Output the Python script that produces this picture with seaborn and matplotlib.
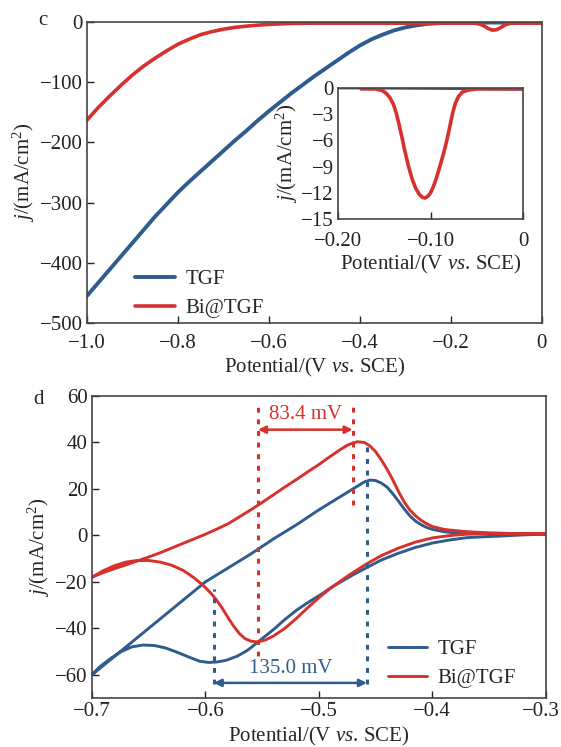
import matplotlib
matplotlib.use('Agg')
import matplotlib.pyplot as plt
import matplotlib.transforms as mtransforms
import seaborn as sns

# panel c: linear sweep, V vs SCE and mA/cm2
lsv_pot_tgf = [-1.00, -0.975, -0.95, -0.925, -0.90, -0.875, -0.85, -0.825, -0.80, -0.775,
               -0.75, -0.725, -0.70, -0.675, -0.65, -0.625, -0.60, -0.575, -0.55, -0.525,
               -0.50, -0.475, -0.45, -0.425, -0.40, -0.375, -0.35, -0.325, -0.30, -0.275,
               -0.25, -0.225, -0.20, -0.15, 0.00]
lsv_j_tgf = [-455, -433, -411, -389, -367, -345, -323, -303, -283, -265,
             -248, -231, -214, -197, -181, -164, -148, -133, -118, -104,
             -90, -77, -64, -51, -39, -29, -21, -14, -9, -5.5,
             -3, -2, -1.5, -1, -1]
lsv_pot_bi = [-1.00, -0.975, -0.95, -0.925, -0.90, -0.875, -0.85, -0.825, -0.80, -0.775,
              -0.75, -0.725, -0.70, -0.675, -0.65, -0.625, -0.60, -0.55, -0.50, -0.15,
              -0.14, -0.13, -0.12, -0.11, -0.10, -0.09, -0.08, -0.07, -0.06, 0.00]
lsv_j_bi = [-163, -142, -123, -105, -88, -73, -60, -48, -37, -28.5,
            -21, -16, -12, -9, -7, -5.3, -4, -2.5, -2, -2,
            -3, -5.5, -10, -13.5, -13, -9, -4.5, -2.5, -2, -2]

# inset: zoom of the Bi@TGF stripping peak
ins_pot_tgf = [-0.20, -0.15, -0.10, -0.05, 0.00]
ins_j_tgf = [0.0, -0.02, -0.05, -0.1, -0.15]
ins_pot_bi = [-0.175, -0.16, -0.152, -0.148, -0.144, -0.140, -0.137, -0.134, -0.131, -0.128,
              -0.124, -0.120, -0.116, -0.112, -0.109, -0.106, -0.103, -0.100, -0.097, -0.094,
              -0.090, -0.086, -0.082, -0.079, -0.076, -0.073, -0.070, -0.066, -0.060, -0.050,
              -0.03, 0.00]
ins_j_bi = [-0.1, -0.1, -0.3, -0.6, -1.1, -1.9, -2.9, -4.2, -5.6, -7.1,
            -8.9, -10.4, -11.5, -12.2, -12.5, -12.6, -12.4, -12.0, -11.3, -10.4,
            -9.0, -7.5, -5.8, -4.3, -2.8, -1.7, -1.0, -0.5, -0.25, -0.1,
            -0.1, -0.1]

# panel d: cyclic voltammograms (forward sweep then reverse)
cv_pot_tgf = [-0.70, -0.69, -0.68, -0.66, -0.64, -0.62, -0.60, -0.58, -0.56, -0.54,
              -0.52, -0.50, -0.49, -0.48, -0.47, -0.465, -0.46, -0.455, -0.45, -0.445,
              -0.44, -0.435, -0.43, -0.425, -0.42, -0.415, -0.41, -0.405, -0.40, -0.39,
              -0.38, -0.36, -0.33, -0.30,
              -0.32, -0.34, -0.355, -0.37, -0.385, -0.40, -0.415, -0.43, -0.445, -0.458,
              -0.47, -0.487, -0.50, -0.51, -0.52, -0.53, -0.54, -0.554, -0.563, -0.572,
              -0.582, -0.59, -0.597, -0.605, -0.615, -0.625, -0.635, -0.645, -0.655, -0.665,
              -0.675, -0.685, -0.693, -0.70]
cv_j_tgf = [-60, -56, -52, -44, -36, -28, -20, -14, -8, -1.5,
            4.5, 11, 14, 17, 20, 21.5, 23, 23.8, 23.6, 22.5,
            20.8, 18, 14.8, 11.5, 8.5, 6.2, 4.6, 3.4, 2.6, 1.6,
            1.1, 0.8, 0.7, 0.6,
            0.2, -0.3, -0.6, -1.0, -2.0, -3.3, -5.2, -7.7, -10.6, -13.9,
            -17, -21.8, -26, -29, -32.3, -36.2, -40.5, -46, -49.5, -52,
            -53.8, -54.5, -54.7, -54.2, -52.3, -50.3, -48.5, -47.4, -47.2, -48,
            -50.2, -53.5, -56.5, -60]
cv_pot_bi = [-0.70, -0.69, -0.68, -0.67, -0.66, -0.65, -0.64, -0.63, -0.62, -0.61,
             -0.60, -0.59, -0.58, -0.57, -0.56, -0.55, -0.54, -0.53, -0.52, -0.51,
             -0.50, -0.49, -0.48, -0.475, -0.47, -0.466, -0.46, -0.455, -0.45, -0.445,
             -0.44, -0.435, -0.43, -0.425, -0.42, -0.415, -0.41, -0.405, -0.40, -0.39,
             -0.385, -0.37, -0.355, -0.33, -0.30,
             -0.34, -0.355, -0.37, -0.385, -0.40, -0.415, -0.43, -0.445, -0.458, -0.47,
             -0.48, -0.49, -0.50, -0.51, -0.52, -0.53, -0.54, -0.547, -0.554, -0.56,
             -0.565, -0.57, -0.575, -0.58, -0.585, -0.59, -0.595, -0.60, -0.605, -0.61,
             -0.615, -0.62, -0.63, -0.64, -0.65, -0.66, -0.67, -0.68, -0.69, -0.70]
cv_j_bi = [-18, -16, -14.3, -12.7, -11, -9.3, -7.5, -5.5, -3.5, -1.5,
           0.5, 2.7, 5, 8, 11, 14.2, 17.5, 20.8, 24, 27.3,
           30.5, 34, 37.3, 38.8, 39.8, 40.3, 40, 38.5, 36, 32.5,
           28.5, 24, 19, 14.5, 11, 8.5, 6.5, 5, 3.8, 2.6,
           2.3, 1.6, 1.2, 0.8, 0.6,
           0.8, 0.7, 0.5, -0.1, -1.1, -2.9, -5.5, -8.7, -12.3, -16,
           -19.3, -22.8, -26.8, -31.2, -35.8, -40, -43.3, -45, -45.9, -45.5,
           -44.5, -42.3, -39.2, -35.5, -31.5, -28, -25, -22.5, -20.3, -18.3,
           -16.6, -15, -12.8, -11.5, -10.8, -10.8, -11.5, -13, -15.2, -18]

# peak positions marked with dotted lines
bi_peaks = [-0.5537, -0.4703]     # 83.4 mV
tgf_peaks = [-0.5927, -0.4577]    # 135.0 mV

blue = '#2f5c8e'
red = '#d6312d'

sns.set_theme(style='ticks')
plt.rcParams['font.family'] = ['Liberation Serif', 'DejaVu Serif']
plt.rcParams['mathtext.fontset'] = 'custom'
plt.rcParams['mathtext.rm'] = 'Liberation Serif'
plt.rcParams['mathtext.it'] = 'Liberation Serif:italic'
plt.rcParams['font.size'] = 15
plt.rcParams['axes.edgecolor'] = '#444444'
plt.rcParams['axes.linewidth'] = 1.2
plt.rcParams['xtick.direction'] = 'in'
plt.rcParams['ytick.direction'] = 'in'
plt.rcParams['xtick.major.size'] = 5
plt.rcParams['ytick.major.size'] = 5
plt.rcParams['xtick.color'] = '#222222'
plt.rcParams['ytick.color'] = '#222222'

ylab = r'$j$/(mA/cm$^2$)'
xlab = r'Potential/(V $vs$. SCE)'
M = '\u2212'


def style_axis(ax, xt, xtl, yt, ytl, xlim, ylim, xpad=3):
    ax.set_xlim(*xlim)
    ax.set_ylim(*ylim)
    ax.set_xticks(xt)
    ax.set_xticklabels(xtl, fontsize=15)
    ax.set_yticks(yt)
    ax.set_yticklabels(ytl, fontsize=15)
    ax.tick_params(pad=3, width=1.0)
    ax.tick_params(axis='x', pad=xpad)


fig = plt.figure(figsize=(5.61, 7.47), dpi=100)

# ---------- c ----------
ax_c = fig.add_axes([0.155, 0.5676, 0.811, 0.403])
sns.lineplot(x=lsv_pot_tgf, y=lsv_j_tgf, ax=ax_c, color=blue, lw=2.8, sort=False,
             estimator=None, label='TGF')
sns.lineplot(x=lsv_pot_bi, y=lsv_j_bi, ax=ax_c, color=red, lw=2.6, sort=False,
             estimator=None, label='Bi@TGF')
style_axis(ax_c, [-1.0, -0.8, -0.6, -0.4, -0.2, 0.0],
           [M + '1.0', M + '0.8', M + '0.6', M + '0.4', M + '0.2', '0'],
           [0, -100, -200, -300, -400, -500],
           ['0', M + '100', M + '200', M + '300', M + '400', M + '500'],
           (-1.0, 0.0), (-500, 0), xpad=8)
ax_c.set_xlabel(xlab, fontsize=15, labelpad=2)
ax_c.set_ylabel(ylab, fontsize=15, labelpad=2)
ax_c.legend(loc='lower left', bbox_to_anchor=(0.065, -0.045), frameon=False, fontsize=15,
            handlelength=1.9, handletextpad=0.5, labelspacing=0.45)
fig.text(0.077, 0.973, 'c', fontsize=15, ha='center', va='center')

# inset
ax_i = fig.add_axes([0.6025, 0.7068, 0.330, 0.1754])
sns.lineplot(x=ins_pot_tgf, y=ins_j_tgf, ax=ax_i, color=blue, lw=2.0, sort=False,
             estimator=None, legend=False)
sns.lineplot(x=ins_pot_bi, y=ins_j_bi, ax=ax_i, color=red, lw=2.6, sort=False,
             estimator=None, legend=False)
style_axis(ax_i, [-0.2, -0.1, 0.0], [M + '0.20', M + '0.10', '0'],
           [0, -3, -6, -9, -12, -15], ['0', M + '3', M + '6', M + '9', M + '12', M + '15'],
           (-0.2, 0.0), (-15, 0), xpad=9)
ax_i.tick_params(axis='y', length=0)
ax_i.set_xlabel(xlab, fontsize=15, labelpad=2)
ax_i.set_ylabel(ylab, fontsize=15, labelpad=1)

# ---------- d ----------
ax_d = fig.add_axes([0.164, 0.0656, 0.809, 0.4043])
sns.lineplot(x=cv_pot_tgf, y=cv_j_tgf, ax=ax_d, color=blue, lw=2.1, sort=False,
             estimator=None, label='TGF')
sns.lineplot(x=cv_pot_bi, y=cv_j_bi, ax=ax_d, color=red, lw=2.1, sort=False,
             estimator=None, label='Bi@TGF')
style_axis(ax_d, [-0.7, -0.6, -0.5, -0.4, -0.3],
           [M + '0.7', M + '0.6', M + '0.5', M + '0.4', M + '0.3'],
           [60, 40, 20, 0, -20, -40, -60],
           ['60', '40', '20', '0', M + '20', M + '40', M + '60'],
           (-0.7, -0.3), (-70, 60))
last = ax_d.get_xticklabels()[-1]
last.set_transform(last.get_transform() +
                   mtransforms.ScaledTranslation(-0.045, 0, fig.dpi_scale_trans))
ax_d.set_xlabel(xlab, fontsize=15, labelpad=2.5)
ax_d.set_ylabel(ylab, fontsize=15, labelpad=2)

dots = (0, (1.6, 2.2))
ax_d.vlines(bi_peaks[0], -52, 58, colors=red, lw=2.2, linestyles=[dots])
ax_d.vlines(bi_peaks[1], 13, 58, colors=red, lw=2.2, linestyles=[dots])
ax_d.vlines(tgf_peaks[0], -64, -23, colors=blue, lw=2.2, linestyles=[dots])
ax_d.vlines(tgf_peaks[1], -64, 41, colors=blue, lw=2.2, linestyles=[dots])

ax_d.annotate('', xy=(bi_peaks[1], 45.5), xytext=(bi_peaks[0], 45.5),
              arrowprops=dict(arrowstyle='<|-|>', color=red, lw=1.8, mutation_scale=11,
                              shrinkA=0, shrinkB=0))
ax_d.text(sum(bi_peaks) / 2, 52, '83.4 mV', color=red, fontsize=15, ha='center', va='center')
ax_d.annotate('', xy=(tgf_peaks[1], -63.5), xytext=(tgf_peaks[0], -63.5),
              arrowprops=dict(arrowstyle='<|-|>', color=blue, lw=1.8, mutation_scale=11,
                              shrinkA=0, shrinkB=0))
ax_d.text(sum(tgf_peaks) / 2, -57.5, '135.0 mV', color=blue, fontsize=15, ha='center',
          va='center')

ax_d.legend(loc='lower left', bbox_to_anchor=(0.61, -0.03), frameon=False, fontsize=15,
            handlelength=1.9, handletextpad=0.5, labelspacing=0.45)
fig.text(0.068, 0.465, 'd', fontsize=15, ha='center', va='center')

fig.savefig('out.png', dpi=100)
